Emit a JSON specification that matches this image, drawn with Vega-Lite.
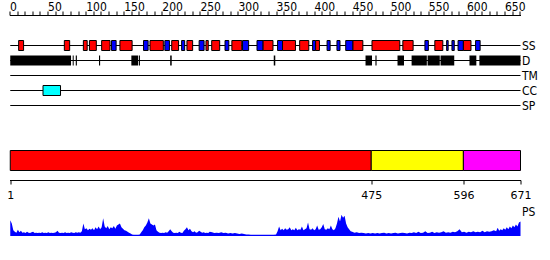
{
  "$schema": "https://vega.github.io/schema/vega-lite/v6.json",
  "width": 511,
  "height": 245,
  "padding": {"left": 9.5, "top": 15, "right": 29.5, "bottom": 0},
  "autosize": {"type": "none"},
  "background": "white",
  "config": {"view": {"stroke": null}},
  "datasets": {
    "tracks": [{"track": "SS"}, {"track": "D"}, {"track": "TM"}, {"track": "CC"}, {"track": "SP"}],
    "ss": [
      {"track": "SS", "start": 12, "end": 18.5, "type": "helix"},
      {"track": "SS", "start": 72, "end": 79, "type": "helix"},
      {"track": "SS", "start": 97, "end": 102, "type": "helix"},
      {"track": "SS", "start": 105, "end": 114, "type": "helix"},
      {"track": "SS", "start": 121, "end": 132, "type": "helix"},
      {"track": "SS", "start": 134, "end": 140, "type": "strand"},
      {"track": "SS", "start": 145, "end": 161, "type": "helix"},
      {"track": "SS", "start": 176, "end": 182, "type": "strand"},
      {"track": "SS", "start": 184.5, "end": 202, "type": "helix"},
      {"track": "SS", "start": 204, "end": 210, "type": "strand"},
      {"track": "SS", "start": 213, "end": 222, "type": "helix"},
      {"track": "SS", "start": 226, "end": 230, "type": "strand"},
      {"track": "SS", "start": 233, "end": 240.5, "type": "helix"},
      {"track": "SS", "start": 249, "end": 255.5, "type": "strand"},
      {"track": "SS", "start": 258, "end": 261, "type": "helix"},
      {"track": "SS", "start": 265.5, "end": 276, "type": "helix"},
      {"track": "SS", "start": 283, "end": 288, "type": "strand"},
      {"track": "SS", "start": 292, "end": 305, "type": "helix"},
      {"track": "SS", "start": 306, "end": 314, "type": "strand"},
      {"track": "SS", "start": 325, "end": 333, "type": "strand"},
      {"track": "SS", "start": 333, "end": 346, "type": "helix"},
      {"track": "SS", "start": 352, "end": 358.5, "type": "strand"},
      {"track": "SS", "start": 358.5, "end": 375.5, "type": "helix"},
      {"track": "SS", "start": 381, "end": 393, "type": "helix"},
      {"track": "SS", "start": 398, "end": 402, "type": "strand"},
      {"track": "SS", "start": 402, "end": 407, "type": "helix"},
      {"track": "SS", "start": 417, "end": 421, "type": "strand"},
      {"track": "SS", "start": 430, "end": 434, "type": "strand"},
      {"track": "SS", "start": 441.5, "end": 451, "type": "strand"},
      {"track": "SS", "start": 451, "end": 464, "type": "helix"},
      {"track": "SS", "start": 476, "end": 512.5, "type": "helix"},
      {"track": "SS", "start": 516.5, "end": 530, "type": "helix"},
      {"track": "SS", "start": 545.5, "end": 550, "type": "strand"},
      {"track": "SS", "start": 558.5, "end": 569, "type": "helix"},
      {"track": "SS", "start": 574, "end": 576, "type": "strand"},
      {"track": "SS", "start": 581, "end": 584, "type": "strand"},
      {"track": "SS", "start": 589, "end": 596, "type": "strand"},
      {"track": "SS", "start": 596, "end": 606, "type": "helix"},
      {"track": "SS", "start": 612, "end": 618, "type": "strand"}
    ],
    "dis": [
      {"track": "D", "start": 1, "end": 80.8},
      {"track": "D", "start": 83, "end": 84.3},
      {"track": "D", "start": 87, "end": 88.5},
      {"track": "D", "start": 117.5, "end": 119},
      {"track": "D", "start": 160, "end": 169},
      {"track": "D", "start": 170, "end": 171.3},
      {"track": "D", "start": 211, "end": 213},
      {"track": "D", "start": 347, "end": 349},
      {"track": "D", "start": 467.5, "end": 476},
      {"track": "D", "start": 480.5, "end": 482},
      {"track": "D", "start": 509.5, "end": 518},
      {"track": "D", "start": 528, "end": 548},
      {"track": "D", "start": 549, "end": 565},
      {"track": "D", "start": 566, "end": 584},
      {"track": "D", "start": 604, "end": 613},
      {"track": "D", "start": 617, "end": 671}
    ],
    "cc": [{"track": "CC", "start": 44, "end": 67}],
    "dom": [
      {"start": 1, "end": 475, "name": "domain 1"},
      {"start": 475, "end": 596, "name": "domain 2"},
      {"start": 596, "end": 671, "name": "domain 3"}
    ],
    "pslabel": [{"label": "PS"}],
    "ps": [
      {"pos": 1, "score": 16.5}, {"pos": 3, "score": 13}, {"pos": 5, "score": 6}, {"pos": 7, "score": 4.5},
      {"pos": 9, "score": 3.5}, {"pos": 11, "score": 6.5}, {"pos": 13, "score": 4}, {"pos": 15, "score": 5.5},
      {"pos": 17, "score": 3.5}, {"pos": 19, "score": 4}, {"pos": 21, "score": 3}, {"pos": 23, "score": 4.5},
      {"pos": 25, "score": 3.5}, {"pos": 27, "score": 3}, {"pos": 29, "score": 4}, {"pos": 31, "score": 4.5},
      {"pos": 33, "score": 3}, {"pos": 35, "score": 3.5}, {"pos": 37, "score": 3}, {"pos": 39, "score": 3.5},
      {"pos": 41, "score": 3}, {"pos": 43, "score": 4}, {"pos": 45, "score": 3}, {"pos": 47, "score": 3.5},
      {"pos": 49, "score": 3}, {"pos": 51, "score": 4}, {"pos": 53, "score": 3}, {"pos": 55, "score": 3.5},
      {"pos": 57, "score": 3}, {"pos": 59, "score": 3.5}, {"pos": 61, "score": 4}, {"pos": 63, "score": 5.5},
      {"pos": 65, "score": 3.5}, {"pos": 67, "score": 3}, {"pos": 69, "score": 3.5}, {"pos": 71, "score": 3},
      {"pos": 73, "score": 4}, {"pos": 75, "score": 3}, {"pos": 77, "score": 3.5}, {"pos": 79, "score": 3},
      {"pos": 81, "score": 4}, {"pos": 83, "score": 3.5}, {"pos": 85, "score": 3}, {"pos": 87, "score": 4},
      {"pos": 89, "score": 3.5}, {"pos": 91, "score": 4}, {"pos": 93, "score": 3.5}, {"pos": 95, "score": 5},
      {"pos": 97, "score": 13}, {"pos": 99, "score": 7}, {"pos": 101, "score": 8}, {"pos": 103, "score": 6},
      {"pos": 105, "score": 7.5}, {"pos": 107, "score": 6.5}, {"pos": 109, "score": 8}, {"pos": 111, "score": 6},
      {"pos": 113, "score": 9}, {"pos": 115, "score": 7}, {"pos": 117, "score": 10}, {"pos": 119, "score": 7},
      {"pos": 121, "score": 9}, {"pos": 123, "score": 18.5}, {"pos": 125, "score": 10}, {"pos": 127, "score": 8},
      {"pos": 129, "score": 10.5}, {"pos": 131, "score": 7}, {"pos": 133, "score": 9}, {"pos": 135, "score": 8},
      {"pos": 137, "score": 10.5}, {"pos": 139, "score": 7.5}, {"pos": 141, "score": 11}, {"pos": 143, "score": 12},
      {"pos": 145, "score": 13}, {"pos": 147, "score": 9}, {"pos": 149, "score": 7.5}, {"pos": 151, "score": 6},
      {"pos": 153, "score": 5.5}, {"pos": 155, "score": 4.5}, {"pos": 157, "score": 3.5}, {"pos": 159, "score": 2.5},
      {"pos": 161, "score": 1.5}, {"pos": 163, "score": 1.2}, {"pos": 165, "score": 1.2}, {"pos": 167, "score": 1.2},
      {"pos": 169, "score": 1.2}, {"pos": 171, "score": 1.5}, {"pos": 173, "score": 4}, {"pos": 175, "score": 6},
      {"pos": 177, "score": 9}, {"pos": 179, "score": 11}, {"pos": 181, "score": 14}, {"pos": 183, "score": 18.5},
      {"pos": 185, "score": 13}, {"pos": 187, "score": 12}, {"pos": 189, "score": 11}, {"pos": 191, "score": 12},
      {"pos": 193, "score": 6}, {"pos": 195, "score": 4.5}, {"pos": 197, "score": 3.5}, {"pos": 199, "score": 3},
      {"pos": 201, "score": 3.5}, {"pos": 203, "score": 3}, {"pos": 205, "score": 4}, {"pos": 207, "score": 3.5},
      {"pos": 209, "score": 5}, {"pos": 211, "score": 7}, {"pos": 213, "score": 5}, {"pos": 215, "score": 3.5},
      {"pos": 217, "score": 3}, {"pos": 219, "score": 3.5}, {"pos": 221, "score": 3}, {"pos": 223, "score": 4.5},
      {"pos": 225, "score": 3.5}, {"pos": 227, "score": 3}, {"pos": 229, "score": 5.5}, {"pos": 231, "score": 7},
      {"pos": 233, "score": 9}, {"pos": 235, "score": 6}, {"pos": 237, "score": 7.5}, {"pos": 239, "score": 5},
      {"pos": 241, "score": 4}, {"pos": 243, "score": 5}, {"pos": 245, "score": 3.5}, {"pos": 247, "score": 4},
      {"pos": 249, "score": 5.5}, {"pos": 251, "score": 4.5}, {"pos": 253, "score": 3.5}, {"pos": 255, "score": 4},
      {"pos": 257, "score": 3}, {"pos": 259, "score": 3.5}, {"pos": 261, "score": 3}, {"pos": 263, "score": 4.5},
      {"pos": 266, "score": 4}, {"pos": 269, "score": 3}, {"pos": 272, "score": 3.5}, {"pos": 275, "score": 3},
      {"pos": 278, "score": 4}, {"pos": 281, "score": 3}, {"pos": 284, "score": 3.5}, {"pos": 287, "score": 2.5},
      {"pos": 290, "score": 3}, {"pos": 293, "score": 2.5}, {"pos": 296, "score": 3}, {"pos": 299, "score": 2.5},
      {"pos": 302, "score": 2}, {"pos": 305, "score": 2.5}, {"pos": 308, "score": 2}, {"pos": 311, "score": 1.5},
      {"pos": 314, "score": 1.5}, {"pos": 317, "score": 1.3}, {"pos": 320, "score": 1.3}, {"pos": 323, "score": 1.3},
      {"pos": 326, "score": 1.3}, {"pos": 329, "score": 1.3}, {"pos": 332, "score": 1.3}, {"pos": 335, "score": 1.3},
      {"pos": 338, "score": 1.3}, {"pos": 341, "score": 1.3}, {"pos": 344, "score": 1.3}, {"pos": 347, "score": 1.3},
      {"pos": 350, "score": 1.5}, {"pos": 352, "score": 5}, {"pos": 354, "score": 10}, {"pos": 356, "score": 6},
      {"pos": 358, "score": 7.5}, {"pos": 360, "score": 6}, {"pos": 362, "score": 8}, {"pos": 364, "score": 6.5},
      {"pos": 366, "score": 7}, {"pos": 368, "score": 9}, {"pos": 370, "score": 6}, {"pos": 372, "score": 7},
      {"pos": 374, "score": 6}, {"pos": 376, "score": 8.5}, {"pos": 378, "score": 6}, {"pos": 380, "score": 7},
      {"pos": 382, "score": 6.5}, {"pos": 384, "score": 10}, {"pos": 386, "score": 6}, {"pos": 388, "score": 7},
      {"pos": 390, "score": 8}, {"pos": 392, "score": 14}, {"pos": 394, "score": 7}, {"pos": 396, "score": 6.5},
      {"pos": 398, "score": 8}, {"pos": 400, "score": 6}, {"pos": 402, "score": 7}, {"pos": 404, "score": 11},
      {"pos": 406, "score": 6.5}, {"pos": 408, "score": 7}, {"pos": 410, "score": 9}, {"pos": 412, "score": 12.5},
      {"pos": 414, "score": 7}, {"pos": 416, "score": 6.5}, {"pos": 418, "score": 8}, {"pos": 420, "score": 7},
      {"pos": 422, "score": 11}, {"pos": 424, "score": 7}, {"pos": 426, "score": 6}, {"pos": 428, "score": 8},
      {"pos": 430, "score": 13}, {"pos": 432, "score": 20}, {"pos": 434, "score": 15}, {"pos": 436, "score": 22},
      {"pos": 438, "score": 19}, {"pos": 440, "score": 21}, {"pos": 442, "score": 13}, {"pos": 444, "score": 9},
      {"pos": 446, "score": 7}, {"pos": 448, "score": 5}, {"pos": 450, "score": 4.5}, {"pos": 453, "score": 3.5},
      {"pos": 456, "score": 4}, {"pos": 459, "score": 3}, {"pos": 462, "score": 3.5}, {"pos": 465, "score": 3},
      {"pos": 468, "score": 2.5}, {"pos": 471, "score": 3}, {"pos": 474, "score": 2.5}, {"pos": 477, "score": 3},
      {"pos": 480, "score": 2.5}, {"pos": 483, "score": 3}, {"pos": 486, "score": 2.5}, {"pos": 489, "score": 3},
      {"pos": 492, "score": 3.5}, {"pos": 495, "score": 2.5}, {"pos": 498, "score": 3}, {"pos": 501, "score": 2.5},
      {"pos": 504, "score": 3}, {"pos": 507, "score": 3.5}, {"pos": 510, "score": 2.5}, {"pos": 513, "score": 3},
      {"pos": 516, "score": 3.5}, {"pos": 519, "score": 3}, {"pos": 522, "score": 2.5}, {"pos": 525, "score": 3.5},
      {"pos": 528, "score": 3}, {"pos": 531, "score": 4}, {"pos": 534, "score": 3}, {"pos": 537, "score": 4.5},
      {"pos": 540, "score": 3}, {"pos": 543, "score": 3.5}, {"pos": 546, "score": 5}, {"pos": 549, "score": 3},
      {"pos": 552, "score": 3.5}, {"pos": 555, "score": 4.5}, {"pos": 558, "score": 3}, {"pos": 561, "score": 4},
      {"pos": 564, "score": 3.5}, {"pos": 567, "score": 4}, {"pos": 570, "score": 5}, {"pos": 573, "score": 3.5},
      {"pos": 576, "score": 4}, {"pos": 579, "score": 3.5}, {"pos": 582, "score": 4.5}, {"pos": 585, "score": 4},
      {"pos": 588, "score": 5}, {"pos": 591, "score": 7}, {"pos": 594, "score": 4}, {"pos": 597, "score": 4.5},
      {"pos": 600, "score": 3.5}, {"pos": 603, "score": 4.5}, {"pos": 606, "score": 4}, {"pos": 609, "score": 5},
      {"pos": 612, "score": 4}, {"pos": 615, "score": 4.5}, {"pos": 618, "score": 4}, {"pos": 621, "score": 5.5},
      {"pos": 624, "score": 4}, {"pos": 627, "score": 5}, {"pos": 630, "score": 4.5}, {"pos": 633, "score": 5},
      {"pos": 636, "score": 6}, {"pos": 639, "score": 5}, {"pos": 641, "score": 8.5}, {"pos": 643, "score": 5.5},
      {"pos": 645, "score": 7}, {"pos": 647, "score": 6}, {"pos": 649, "score": 8}, {"pos": 651, "score": 6.5},
      {"pos": 653, "score": 9}, {"pos": 655, "score": 7}, {"pos": 657, "score": 10}, {"pos": 659, "score": 8},
      {"pos": 661, "score": 11}, {"pos": 663, "score": 9}, {"pos": 665, "score": 12}, {"pos": 667, "score": 10},
      {"pos": 669, "score": 14}, {"pos": 671, "score": 15}
    ]
  },
  "layer": [
    {
      "layer": [
        {
          "data": {"name": "tracks"},
          "mark": {"type": "rule", "color": "black", "strokeWidth": 1},
          "encoding": {
            "x": {
              "datum": 1, "type": "quantitative",
              "scale": {"domain": [0, 671], "nice": false, "zero": false},
              "axis": {
                "orient": "top", "title": null, "grid": false,
                "tickCount": 200,
                "values": [0,10,20,30,40,50,60,70,80,90,100,110,120,130,140,150,160,170,180,190,200,210,220,230,240,250,260,270,280,290,300,310,320,330,340,350,360,370,380,390,400,410,420,430,440,450,460,470,480,490,500,510,520,530,540,550,560,570,580,590,600,610,620,630,640,650,660,670],
                "labelExpr": "datum.value % 50 === 0 ? datum.label : ''",
                "labelAlign": "left", "labelBaseline": "alphabetic", "labelPadding": 0.5,
                "labelFont": "Liberation Sans Narrow, DejaVu Sans Condensed, sans-serif",
                "labelFontSize": 12, "labelColor": "black",
                "labelFlush": false, "labelOverlap": false, "labelBound": false,
                "tickSize": 4, "tickColor": "black", "tickWidth": 1,
                "domainColor": "black", "domainWidth": 1
              }
            },
            "x2": {"datum": 671},
            "y": {
              "field": "track", "type": "nominal", "bandPosition": 0.5,
              "scale": {"type": "band", "domain": ["SS", "D", "TM", "CC", "SP"], "range": [25.5, 95.5], "paddingInner": 0.3333333, "paddingOuter": 0},
              "axis": null
            }
          }
        },
        {
          "data": {"name": "ss"},
          "mark": {"type": "rect", "stroke": "black", "strokeWidth": 1},
          "encoding": {
            "x": {"field": "start", "type": "quantitative"},
            "x2": {"field": "end"},
            "y": {
              "field": "track", "type": "nominal",
              "scale": {"type": "band", "domain": ["SS", "D", "TM", "CC", "SP"], "range": [25.5, 95.5], "paddingInner": 0.3333333, "paddingOuter": 0},
              "axis": null
            },
            "color": {
              "field": "type", "type": "nominal",
              "scale": {"domain": ["helix", "strand"], "range": ["#FF0000", "#0000FF"]},
              "legend": null
            }
          }
        },
        {
          "data": {"name": "dis"},
          "mark": {"type": "rect", "fill": "black"},
          "encoding": {
            "x": {"field": "start", "type": "quantitative"},
            "x2": {"field": "end"},
            "y": {
              "field": "track", "type": "nominal",
              "scale": {"type": "band", "domain": ["SS", "D", "TM", "CC", "SP"], "range": [25.5, 95.5], "paddingInner": 0.3333333, "paddingOuter": 0},
              "axis": null
            }
          }
        },
        {
          "data": {"name": "cc"},
          "mark": {"type": "rect", "fill": "#00FFFF", "stroke": "black", "strokeWidth": 1},
          "encoding": {
            "x": {"field": "start", "type": "quantitative"},
            "x2": {"field": "end"},
            "y": {
              "field": "track", "type": "nominal",
              "scale": {"type": "band", "domain": ["SS", "D", "TM", "CC", "SP"], "range": [25.5, 95.5], "paddingInner": 0.3333333, "paddingOuter": 0},
              "axis": null
            }
          }
        },
        {
          "data": {"name": "tracks"},
          "mark": {"type": "text", "align": "left", "baseline": "middle", "dx": 1.5, "font": "Liberation Sans Narrow, DejaVu Sans Condensed, sans-serif", "fontSize": 12, "color": "black"},
          "encoding": {
            "x": {"datum": 671, "type": "quantitative"},
            "y": {
              "field": "track", "type": "nominal", "bandPosition": 0.5,
              "scale": {"type": "band", "domain": ["SS", "D", "TM", "CC", "SP"], "range": [25.5, 95.5], "paddingInner": 0.3333333, "paddingOuter": 0},
              "axis": null
            },
            "text": {"field": "track"}
          }
        }
      ]
    },
    {
      "data": {"name": "dom"},
      "mark": {"type": "rect", "stroke": "black", "strokeWidth": 1},
      "encoding": {
        "x": {
          "field": "start", "type": "quantitative",
          "scale": {"domain": [0, 671], "nice": false, "zero": false},
          "axis": {
            "orient": "bottom", "offset": -80, "title": null, "grid": false,
            "values": [1, 475, 596, 671], "tickCount": 200,
            "labelFont": "DejaVu Sans", "labelFontSize": 11, "labelColor": "black",
            "labelPadding": 5, "labelFlush": false, "labelOverlap": false, "labelBound": false,
            "tickSize": 4, "tickColor": "black", "tickWidth": 1,
            "domainColor": "black", "domainWidth": 1
          }
        },
        "x2": {"field": "end"},
        "y": {"datum": 0, "type": "quantitative", "scale": {"domain": [0, 1], "range": [155.5, 135.5]}, "axis": null},
        "y2": {"datum": 1},
        "color": {
          "field": "name", "type": "nominal",
          "scale": {"domain": ["domain 1", "domain 2", "domain 3"], "range": ["#FF0000", "#FFFF00", "#FF00FF"]},
          "legend": null
        }
      }
    },
    {
      "layer": [
        {
          "data": {"name": "ps"},
          "mark": {"type": "area", "color": "#0000FF", "interpolate": "linear"},
          "encoding": {
            "x": {"field": "pos", "type": "quantitative", "scale": {"domain": [0, 671], "nice": false, "zero": false}, "axis": null},
            "y": {"field": "score", "type": "quantitative", "scale": {"domain": [0, 25], "range": [221, 196]}, "axis": null}
          }
        },
        {
          "data": {"name": "pslabel"},
          "mark": {"type": "text", "align": "left", "baseline": "middle", "dx": 1.5, "font": "Liberation Sans Narrow, DejaVu Sans Condensed, sans-serif", "fontSize": 12, "color": "black"},
          "encoding": {
            "x": {"datum": 671, "type": "quantitative"},
            "y": {"datum": 24.5, "type": "quantitative"},
            "text": {"field": "label"}
          }
        }
      ]
    }
  ],
  "resolve": {
    "scale": {"x": "independent", "y": "independent", "color": "independent"},
    "axis": {"x": "independent", "y": "independent"}
  }
}
